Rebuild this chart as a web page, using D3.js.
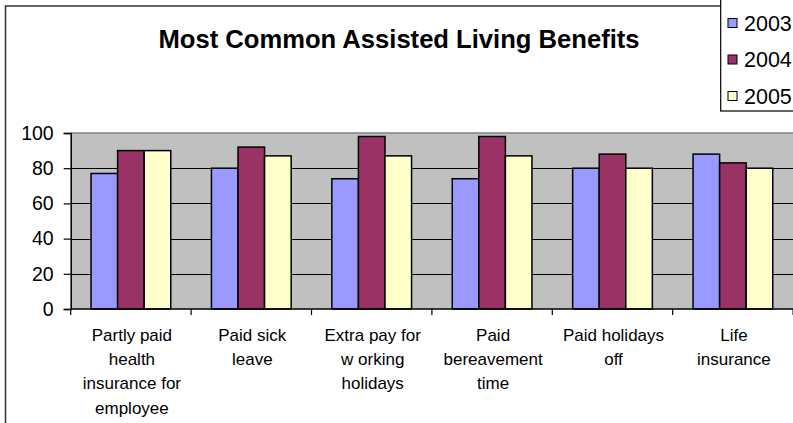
<!DOCTYPE html>
<html>
<head>
<meta charset="utf-8">
<script src="https://cdn.jsdelivr.net/npm/d3@7"></script>
<style>
  html, body { margin: 0; padding: 0; background: #fff; }
  svg { display: block; }
  text { font-family: "Liberation Sans", Arial, sans-serif; fill: #000; }
</style>
</head>
<body>
<svg id="chart" width="793" height="423"></svg>
<script>
// Benefit categories (line breaks follow the wrapped axis labels)
const categories = [
  "Partly paid\nhealth\ninsurance for\nemployee",
  "Paid sick\nleave",
  "Extra pay for\nw orking\nholidays",
  "Paid\nbereavement\ntime",
  "Paid holidays\noff",
  "Life\ninsurance"
];
const years = ["2003", "2004", "2005"];
const values2003 = [77, 80, 74, 74, 80, 88];
const values2004 = [90, 92, 98, 98, 88, 83];
const values2005 = [90, 87, 87, 87, 80, 80];
const yTicks = [0, 20, 40, 60, 80, 100];
const titleText = "Most Common Assisted Living Benefits";

const seriesValues = [values2003, values2004, values2005];
const colors = ["#9999FF", "#993366", "#FFFFCC"];

const svg = d3.select("#chart");
const plot = { left: 70.7, right: 793.1, top: 133, bottom: 309 };

// outer chart border
svg.append("path")
  .attr("d", `M5.5,430 V6 H725`)
  .attr("fill", "none")
  .attr("stroke", "#333")
  .attr("stroke-width", 1.5);

const x = d3.scaleBand().domain(categories).range([plot.left, plot.right]).padding(0);
const bw = x.bandwidth();
const x1 = d3.scaleBand().domain(years).range([bw * 0.169, bw * 0.831]).padding(0);
const y = d3.scaleLinear().domain([0, 100]).range([plot.bottom, plot.top]);

// plot background
svg.append("rect")
  .attr("x", plot.left).attr("y", plot.top)
  .attr("width", plot.right - plot.left).attr("height", plot.bottom - plot.top)
  .attr("fill", "#C0C0C0");

// horizontal gridlines
svg.append("g").selectAll("line")
  .data(yTicks.filter(t => t > 0 && t < 100))
  .join("line")
  .attr("x1", plot.left).attr("x2", plot.right)
  .attr("y1", d => Math.round(y(d)) + 0.5).attr("y2", d => Math.round(y(d)) + 0.5)
  .attr("stroke", "#000").attr("stroke-width", 1);

// top border of plot area
svg.append("line")
  .attr("x1", plot.left).attr("x2", plot.right)
  .attr("y1", plot.top).attr("y2", plot.top)
  .attr("stroke", "#808080").attr("stroke-width", 1.5);

// bars
const rows = categories.map((c, i) => ({ c, vals: years.map((yr, j) => ({ yr, v: seriesValues[j][i], color: colors[j] })) }));
svg.append("g").selectAll("g")
  .data(rows)
  .join("g")
  .attr("transform", d => `translate(${x(d.c)},0)`)
  .selectAll("rect")
  .data(d => d.vals)
  .join("rect")
  .attr("x", d => x1(d.yr))
  .attr("width", x1.bandwidth())
  .attr("y", d => y(d.v))
  .attr("height", d => y(0) - y(d.v))
  .attr("fill", d => d.color)
  .attr("stroke", "#000")
  .attr("stroke-width", 1.5);

// y axis
const yAxis = d3.axisLeft(y).tickValues(yTicks).tickSize(7).tickPadding(10);
const gy = svg.append("g").attr("transform", `translate(${plot.left},0)`).call(yAxis);
gy.select(".domain").attr("stroke", "#000").attr("stroke-width", 1.5);
gy.selectAll(".tick line").attr("stroke", "#000").attr("stroke-width", 1.2);
gy.selectAll(".tick text")
  .style("font-family", '"Liberation Sans", Arial, sans-serif')
  .style("font-size", "19.5px")
  .attr("fill", "#000");

// x axis line and category boundary ticks
svg.append("line")
  .attr("x1", plot.left).attr("x2", plot.right)
  .attr("y1", plot.bottom).attr("y2", plot.bottom)
  .attr("stroke", "#000").attr("stroke-width", 1.5);
const bounds = categories.map(c => x(c)).concat([plot.right]);
svg.append("g").selectAll("line")
  .data(bounds)
  .join("line")
  .attr("x1", d => d).attr("x2", d => d)
  .attr("y1", plot.bottom).attr("y2", plot.bottom + 6)
  .attr("stroke", "#000").attr("stroke-width", 1.2);

// category labels
const lab = svg.append("g").selectAll("text")
  .data(categories)
  .join("text")
  .attr("x", d => x(d) + bw / 2 + 1)
  .attr("text-anchor", "middle")
  .style("font-size", "17px");
lab.selectAll("tspan")
  .data(d => d.split("\n").map((s, i) => ({ s, i })))
  .join("tspan")
  .attr("x", function () { return d3.select(this.parentNode).attr("x"); })
  .attr("y", d => 341 + d.i * 24.2)
  .text(d => d.s);

// title
svg.append("text")
  .attr("x", 399).attr("y", 48)
  .attr("text-anchor", "middle")
  .style("font-size", "25.6px")
  .style("font-weight", "bold")
  .text(titleText);

// legend
svg.append("rect")
  .attr("x", 720.7).attr("y", -5)
  .attr("width", 100).attr("height", 116)
  .attr("fill", "#fff")
  .attr("stroke", "#000").attr("stroke-width", 1.2);
const leg = svg.append("g").selectAll("g")
  .data(years)
  .join("g")
  .attr("transform", (d, i) => `translate(0,${23 + i * 36.5})`);
leg.append("rect")
  .attr("x", 728).attr("y", -4.5)
  .attr("width", 9).attr("height", 9)
  .attr("fill", (d, i) => colors[i])
  .attr("stroke", "#000").attr("stroke-width", 1);
leg.append("text")
  .attr("x", 744).attr("y", 7.5)
  .style("font-size", "21.5px")
  .text(d => d);
</script>
</body>
</html>
